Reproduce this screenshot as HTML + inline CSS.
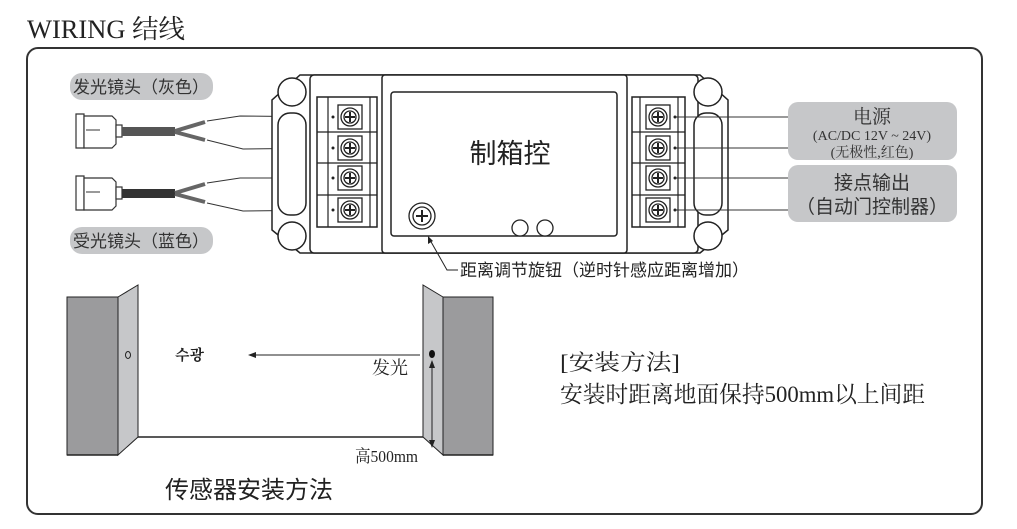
<!DOCTYPE html>
<html><head><meta charset="utf-8"><style>
html,body{margin:0;padding:0;background:#fff;}
svg{display:block;}
text{font-family:"Liberation Serif","Noto Serif CJK SC","Noto Sans CJK SC",serif;}
.s{font-family:"Liberation Sans","Noto Sans CJK SC",sans-serif;}
</style></head><body>
<svg width="1017" height="529" viewBox="0 0 1017 529" xmlns="http://www.w3.org/2000/svg">
<text x="27" y="38" font-size="26" fill="#222" textLength="158" lengthAdjust="spacingAndGlyphs">WIRING 结线</text>
<rect x="27" y="48" width="955" height="466" rx="11" fill="none" stroke="#333" stroke-width="2"/>

<!-- left labels -->
<rect x="70" y="73" width="143" height="27" rx="12" fill="#c6c7c9"/>
<text x="141" y="93" font-size="17" text-anchor="middle" class="s" fill="#333">发光镜头（灰色）</text>
<rect x="70" y="227" width="143" height="27" rx="12" fill="#c6c7c9"/>
<text x="141" y="247" font-size="17" text-anchor="middle" class="s" fill="#333">受光镜头（蓝色）</text>

<!-- sensors -->
<g stroke="#333" stroke-width="1.2" fill="#fff">
<path d="M76,114 h8 v34 h-8 z"/><path d="M84,116 h28 l4,4 v24 l-4,4 h-28 z"/><rect x="116" y="125" width="6" height="12"/>
<path d="M76,176 h8 v34 h-8 z"/><path d="M84,178 h28 l4,4 v24 l-4,4 h-28 z"/><rect x="116" y="187" width="6" height="12"/>
</g>
<line x1="86" y1="130" x2="100" y2="130" stroke="#333"/><line x1="86" y1="192" x2="100" y2="192" stroke="#333"/>
<rect x="122" y="127" width="53" height="9" fill="#555"/>
<rect x="122" y="189" width="53" height="9" fill="#333"/>
<g stroke="#666" stroke-width="4"><line x1="175" y1="131" x2="205" y2="122"/><line x1="175" y1="132" x2="205" y2="140"/>
<line x1="175" y1="193" x2="205" y2="184"/><line x1="175" y1="194" x2="205" y2="202"/></g>
<g stroke="#333" stroke-width="1" fill="none">
<polyline points="207,121 240,116 333,117"/><polyline points="207,140 243,149 333,148"/>
<polyline points="207,183 240,178 333,178"/><polyline points="207,203 243,211 333,210"/>
</g>

<!-- module -->
<g stroke="#222" stroke-width="1.5" fill="#fff">
<path d="M300,75 H700 L728,100 V230 L700,253 H300 L272,230 V100 Z"/>
<rect x="310" y="75" width="388" height="178" rx="4"/>
<circle cx="292" cy="92" r="14"/><circle cx="292" cy="236" r="14"/>
<circle cx="708" cy="92" r="14"/><circle cx="708" cy="236" r="14"/>
<rect x="278" y="113" width="28" height="102" rx="12"/>
<rect x="694" y="113" width="28" height="102" rx="12"/>
<rect x="382" y="75" width="245" height="178" rx="3"/>
<rect x="391" y="92" width="226" height="144" rx="3"/>
<rect x="317" y="97" width="60" height="130"/>
<rect x="632" y="97" width="53" height="130"/>
</g>
<g stroke="#222" stroke-width="1.2" fill="none">
<line x1="317" y1="132" x2="377" y2="132"/><line x1="317" y1="163" x2="377" y2="163"/><line x1="317" y1="195" x2="377" y2="195"/>
<line x1="632" y1="132" x2="685" y2="132"/><line x1="632" y1="163" x2="685" y2="163"/><line x1="632" y1="195" x2="685" y2="195"/>
<line x1="328" y1="97" x2="328" y2="227"/><line x1="370" y1="97" x2="370" y2="227"/>
<line x1="640" y1="97" x2="640" y2="227"/><line x1="678" y1="97" x2="678" y2="227"/>
</g>
<g stroke="#222" stroke-width="1.3" fill="#fff">
<rect x="338" y="105" width="24" height="24"/><circle cx="350" cy="117" r="9"/><circle cx="350" cy="117" r="6"/>
<rect x="338" y="136" width="24" height="24"/><circle cx="350" cy="148" r="9"/><circle cx="350" cy="148" r="6"/>
<rect x="338" y="166" width="24" height="24"/><circle cx="350" cy="178" r="9"/><circle cx="350" cy="178" r="6"/>
<rect x="338" y="198" width="24" height="24"/><circle cx="350" cy="210" r="9"/><circle cx="350" cy="210" r="6"/>
<rect x="646" y="105" width="24" height="24"/><circle cx="658" cy="117" r="9"/><circle cx="658" cy="117" r="6"/>
<rect x="646" y="136" width="24" height="24"/><circle cx="658" cy="148" r="9"/><circle cx="658" cy="148" r="6"/>
<rect x="646" y="166" width="24" height="24"/><circle cx="658" cy="178" r="9"/><circle cx="658" cy="178" r="6"/>
<rect x="646" y="198" width="24" height="24"/><circle cx="658" cy="210" r="9"/><circle cx="658" cy="210" r="6"/>
<circle cx="422" cy="216" r="13"/><circle cx="422" cy="216" r="9"/>
<circle cx="520" cy="228" r="8"/><circle cx="545" cy="228" r="8"/>
</g>
<g stroke="#222" stroke-width="2">
<path d="M350,112 v10 M345,117 h10 M350,143 v10 M345,148 h10 M350,173 v10 M345,178 h10 M350,205 v10 M345,210 h10"/>
<path d="M658,112 v10 M653,117 h10 M658,143 v10 M653,148 h10 M658,173 v10 M653,178 h10 M658,205 v10 M653,210 h10"/>
<path d="M422,210 v12 M416,216 h12"/>
</g>
<g fill="#222"><circle cx="333" cy="117" r="1.5"/><circle cx="333" cy="148" r="1.5"/><circle cx="333" cy="178" r="1.5"/><circle cx="333" cy="210" r="1.5"/>
<circle cx="675" cy="117" r="1.5"/><circle cx="675" cy="148" r="1.5"/><circle cx="675" cy="178" r="1.5"/><circle cx="675" cy="210" r="1.5"/></g>
<text x="510" y="163" font-size="27" text-anchor="middle" class="s" fill="#222">制箱控</text>
<polyline points="430,240 447,270 458,270" fill="none" stroke="#222"/>
<path d="M428,236 l0,8 l5,-3 z" fill="#222"/>
<text x="460" y="276" font-size="17" class="s" fill="#222">距离调节旋钮（逆时针感应距离增加）</text>

<!-- right labels -->
<g stroke="#333"><line x1="675" y1="117" x2="788" y2="117"/><line x1="675" y1="148" x2="788" y2="148"/><line x1="675" y1="178" x2="788" y2="178"/><line x1="675" y1="210" x2="788" y2="210"/></g>
<rect x="788" y="102" width="169" height="58" rx="10" fill="#c6c7c9"/>
<rect x="788" y="165" width="169" height="57" rx="10" fill="#c6c7c9"/>
<text x="872" y="123" font-size="19" text-anchor="middle" fill="#333">电源</text>
<text x="872" y="140" font-size="14" text-anchor="middle" fill="#333">(AC/DC 12V ~ 24V)</text>
<text x="872" y="157" font-size="14" text-anchor="middle" fill="#333">(无极性,红色)</text>
<text x="872" y="189" font-size="19" text-anchor="middle" class="s" fill="#333">接点输出</text>
<text x="872" y="213" font-size="19" text-anchor="middle" class="s" fill="#333">（自动门控制器）</text>

<!-- door diagram -->
<rect x="67" y="297" width="51" height="158" fill="#9b9b9d" stroke="#222"/>
<path d="M118,297 L138,285 V437 L118,455 Z" fill="#c6c7c9" stroke="#222"/>
<rect x="443" y="297" width="50" height="158" fill="#9b9b9d" stroke="#222"/>
<path d="M443,297 L423,285 V437 L443,455 Z" fill="#c6c7c9" stroke="#222"/>
<line x1="138" y1="437" x2="423" y2="437" stroke="#222" stroke-width="1.5"/>
<line x1="67" y1="455" x2="118" y2="455" stroke="#222" stroke-width="1.5"/>
<line x1="443" y1="455" x2="493" y2="455" stroke="#222" stroke-width="1.5"/>
<ellipse cx="128" cy="355" rx="2.5" ry="3.5" fill="none" stroke="#222"/>
<ellipse cx="432" cy="354" rx="3" ry="4" fill="#111"/>
<line x1="252" y1="355" x2="420" y2="355" stroke="#222"/>
<path d="M248,355 l8,-3 v6 z" fill="#222"/>
<line x1="432" y1="364" x2="432" y2="445" stroke="#222"/>
<path d="M432,360 l-3,8 h6 z M432,448 l-3,-8 h6 z" fill="#222"/>
<text x="175" y="360" font-size="15" font-weight="bold" fill="#222" font-family="'Noto Sans CJK KR',sans-serif">수광</text>
<text x="372" y="374" font-size="18" fill="#222">发光</text>
<text x="355" y="462" font-size="17" fill="#222" textLength="63" lengthAdjust="spacingAndGlyphs">高500mm</text>
<text x="165" y="498" font-size="24" class="s" fill="#222">传感器安装方法</text>
<text x="560" y="370" font-size="22" fill="#222" textLength="120" lengthAdjust="spacingAndGlyphs">[安装方法]</text>
<text x="560" y="402" font-size="23" fill="#222" textLength="365" lengthAdjust="spacingAndGlyphs">安装时距离地面保持500mm以上间距</text>
</svg>
</body></html>
